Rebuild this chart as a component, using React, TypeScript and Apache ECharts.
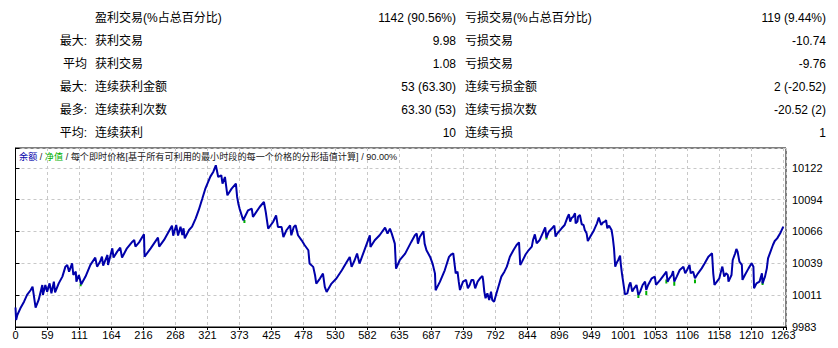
import React, { useEffect, useRef } from 'react';
import * as echarts from 'echarts';

// ---- statistics table ----
const rowLeftLabels = ['', '最大:', '平均', '最大:', '最多:', '平均:'];
const winLabels = ['盈利交易(%占总百分比)', '获利交易', '获利交易', '连续获利金额', '连续获利次数', '连续获利'];
const winValues = ['1142 (90.56%)', '9.98', '1.08', '53 (63.30)', '63.30 (53)', '10'];
const lossLabels = ['亏损交易(%占总百分比)', '亏损交易', '亏损交易', '连续亏损金额', '连续亏损次数', '连续亏损'];
const lossValues = ['119 (9.44%)', '-10.74', '-9.76', '2 (-20.52)', '-20.52 (2)', '1'];

// ---- axes ----
const xTickLabels = ['0', '59', '111', '164', '216', '268', '321', '373', '425', '478', '530', '582', '635', '687', '739', '792', '844', '896', '949', '1001', '1053', '1106', '1158', '1210', '1263'];
const X_STEP = 1261 / 24;
const X_MAX = 1265.5;
const yTickLabels = ['9983', '10011', '10039', '10066', '10094', '10122'];
const Y_MIN = 9983;
const Y_STEP = 27.8;
const Y_MAX = 10139.3;

// ---- balance curve (trade number, balance) ----
const tradeIdx = [
  0, 1, 3, 8, 14, 19, 25, 28, 33, 38, 44, 45, 49, 52, 56, 59, 63, 65, 71, 77,
  82, 85, 88, 93, 95, 99, 100, 104, 108, 115, 123, 131, 134, 139, 142, 144, 151, 152, 159, 161,
  167, 172, 175, 183, 192, 195, 197, 203, 211, 212, 222, 234, 236, 244, 257, 259, 264, 267, 271, 274,
  276, 278, 285, 290, 296, 301, 307, 312, 320, 325,
  329, 333, 338, 340, 344, 348, 355, 362, 364, 366, 368, 374, 382, 388, 390, 401, 408, 411, 415, 423,
  428, 431, 437, 440, 445, 451, 453, 457, 460, 464, 470, 475, 481, 483, 489, 492, 494, 500, 505, 508,
  511, 519, 527, 536, 544, 549, 552, 557, 561, 565, 571, 579, 582, 583, 590, 598, 607, 611, 615, 618,
  623, 625, 631, 640, 650, 656, 659, 661, 664, 670, 672, 675, 681, 685, 689, 690, 697, 705, 712,
  716, 719, 721, 723, 726, 728, 730, 735, 740, 743, 746, 749, 752, 755, 759, 763, 767, 768, 770, 772,
  775, 778, 781, 783, 786, 790, 794, 798, 803, 807, 812, 818, 823, 827, 829, 832, 838, 843, 848, 850,
  853, 856, 861, 867, 870, 872, 876, 882, 885, 887, 890, 897, 902, 907, 909, 911, 913, 916, 919, 920,
  923, 924, 927, 930, 933, 935, 938, 940, 944, 949, 955, 958, 962, 965, 968,
  970, 972, 975, 979, 981, 983, 985, 987, 990, 993, 994, 996, 998, 1001, 1005, 1008, 1010, 1013, 1016, 1020,
  1023, 1026, 1030, 1034, 1036, 1039, 1045, 1050, 1052, 1059, 1067, 1069, 1071, 1074, 1078, 1080, 1082, 1086, 1091, 1097,
  1100, 1103, 1107, 1109, 1113, 1116, 1121, 1127, 1132, 1138, 1144, 1146, 1148, 1152, 1156, 1160, 1161, 1164, 1167, 1170,
  1171, 1176, 1178, 1182, 1184, 1186, 1189, 1193, 1194, 1198, 1204, 1209, 1212, 1213, 1217, 1222, 1226, 1227, 1231, 1234,
  1236, 1239, 1244, 1247, 1251, 1256, 1261,
];
const balance = [
  10000.0, 9989.1, 9993.5, 9999.3, 10005.1, 10011.0, 10015.3, 10018.2, 10000.0, 10006.6, 10019.7, 10011.0, 10019.7, 10013.9, 10021.1, 10012.4, 10022.6, 10013.3, 10021.1, 10027.0,
  10035.7, 10037.2, 10031.3, 10038.6, 10028.4, 10031.3, 10022.6, 10028.4, 10020.3, 10027.0, 10037.2, 10043.6, 10035.7, 10040.1, 10044.4, 10036.6, 10045.9, 10037.2, 10051.7, 10043.6,
  10048.8, 10052.3, 10043.6, 10051.7, 10057.5, 10059.0, 10053.2, 10056.9, 10063.9, 10044.4, 10051.7, 10061.0, 10053.2, 10059.0, 10071.5, 10062.8, 10072.1, 10062.8, 10070.6, 10063.3,
  10069.2, 10060.4, 10067.7, 10070.6, 10077.9, 10085.2, 10095.4, 10104.1, 10114.3, 10118.6,
  10124.2, 10114.0, 10115.5, 10108.2, 10114.0, 10098.0, 10103.8, 10108.2, 10096.6, 10090.7, 10086.4, 10076.2, 10084.9, 10086.4, 10079.1, 10087.8, 10092.2, 10083.5, 10068.9, 10074.7,
  10080.5, 10070.4, 10070.4, 10061.6, 10067.5, 10071.8, 10063.1, 10070.4, 10071.8, 10063.1, 10058.7, 10054.4, 10050.0, 10038.4, 10035.5, 10028.2, 10020.9, 10025.3, 10029.6, 10018.0,
  10013.6, 10020.9, 10025.3, 10032.5, 10039.8, 10044.2, 10035.5, 10041.3, 10047.1, 10038.4, 10047.1, 10058.7, 10063.1, 10052.9, 10058.7, 10063.1, 10069.8, 10064.5, 10068.9, 10064.5,
  10055.8, 10034.0, 10041.3, 10047.1, 10057.3, 10063.1, 10064.6, 10055.8, 10061.6, 10066.6, 10055.8, 10050.0, 10044.2, 10038.4, 10029.6, 10015.1, 10022.4, 10032.5, 10044.2,
  10046.5, 10047.3, 10038.6, 10029.9, 10031.3, 10022.6, 10015.3, 10022.6, 10024.1, 10016.8, 10019.7, 10024.1, 10024.1, 10016.8, 10022.6, 10025.5, 10027.5, 10024.1, 10013.9, 10008.1,
  10012.4, 10006.6, 10013.9, 10006.6, 10005.1, 10012.4, 10019.7, 10027.0, 10031.3, 10035.7, 10044.4, 10050.2, 10054.6, 10056.9, 10037.1, 10040.1, 10046.5, 10050.2, 10053.2, 10059.0,
  10063.9, 10056.1, 10059.0, 10066.3, 10070.0, 10061.0, 10066.3, 10069.7, 10071.5, 10061.9, 10064.8, 10069.2, 10072.1, 10079.3, 10081.4, 10075.0, 10077.9, 10079.3, 10082.3, 10073.5,
  10075.0, 10079.3, 10080.8, 10072.7, 10072.1, 10067.7, 10064.8, 10058.1, 10061.9, 10066.3, 10073.5, 10078.5, 10072.1, 10074.4, 10075.0,
  10076.4, 10069.2, 10071.5, 10067.7, 10061.0, 10051.7, 10035.7, 10038.6, 10041.5, 10045.3, 10038.6, 10029.9, 10022.6, 10011.5, 10012.4, 10019.7, 10022.0, 10013.9, 10016.8, 10019.7,
  10011.0, 10013.9, 10019.7, 10022.6, 10015.3, 10019.7, 10025.5, 10027.0, 10019.7, 10024.1, 10029.9, 10031.3, 10022.6, 10025.5, 10028.4, 10031.9, 10022.6, 10027.0, 10032.8, 10035.7,
  10029.9, 10032.8, 10037.2, 10029.9, 10031.3, 10025.5, 10029.9, 10034.2, 10038.6, 10044.4, 10047.3, 10029.9, 10019.7, 10022.6, 10025.5, 10034.2, 10035.7, 10027.0, 10029.9, 10028.4,
  10022.6, 10028.4, 10041.5, 10047.3, 10051.1, 10048.8, 10040.1, 10037.2, 10024.1, 10028.4, 10034.2, 10038.6, 10035.7, 10016.8, 10021.1, 10022.6, 10029.9, 10021.1, 10027.0, 10034.2,
  10043.0, 10047.3, 10054.6, 10058.1, 10060.4, 10064.8, 10070.6,
];

// ---- equity dips (trade number, equity high, equity low) ----
const equityIdx = [107, 376, 872, 1023, 1036, 1069, 1082, 1116, 1227];
const equityHigh = [10021.0, 10076.5, 10062.0, 10011.5, 10014.5, 10024.5, 10022.5, 10024.5, 10022.8];
const equityLow = [10018.5, 10073.9, 10059.5, 10008.3, 10011.0, 10021.0, 10019.1, 10021.1, 10019.7];

const FONT = '"Liberation Sans", Arial, "Noto Sans CJK SC", sans-serif';

export default function App() {
  const ref = useRef<HTMLDivElement>(null);

  useEffect(() => {
    const chart = echarts.init(ref.current!, null, { renderer: 'svg' });

    const balanceData = tradeIdx.map((x, i) => [x, balance[i]]);
    const equityData: any[] = [];
    equityIdx.forEach((x, i) => {
      equityData.push([x, equityHigh[i]]);
      equityData.push([x, equityLow[i]]);
      equityData.push('-');
    });

    const graphics: any[] = [];
    const rowY = (i: number) => 17.5 + i * 23;
    const txt = (text: string, x: number, y: number, align: string) => ({
      type: 'text',
      x,
      y,
      silent: true,
      style: {
        text,
        fill: '#000',
        fontSize: 12,
        fontFamily: FONT,
        align,
        verticalAlign: 'middle',
      },
    });
    for (let i = 0; i < 6; i++) {
      if (rowLeftLabels[i]) graphics.push(txt(rowLeftLabels[i], 87, rowY(i), 'right'));
      graphics.push(txt(winLabels[i], 95, rowY(i), 'left'));
      graphics.push(txt(winValues[i], 456, rowY(i), 'right'));
      graphics.push(txt(lossLabels[i], 465, rowY(i), 'left'));
      graphics.push(txt(lossValues[i], 826, rowY(i), 'right'));
    }
    graphics.push({
      type: 'text',
      x: 19,
      y: 157,
      silent: true,
      z: 100,
      style: {
        text: '{b|余额} / {g|净值} / 每个即时价格[基于所有可利用的最小时段的每一个价格的分形插值计算] / 90.00%',
        fill: '#202020',
        fontSize: 9.15,
        fontFamily: FONT,
        align: 'left',
        verticalAlign: 'middle',
        rich: {
          b: { fill: '#0000aa', fontSize: 9.15, fontFamily: FONT },
          g: { fill: '#00b000', fontSize: 9.15, fontFamily: FONT },
        },
      },
    });

    const nearTick = (v: number, min: number, step: number, labels: string[]) => {
      const k = (v - min) / step;
      const r = Math.round(k);
      if (Math.abs(k - r) > 0.02 || r < 0 || r >= labels.length) return '';
      return labels[r];
    };

    const option: any = {
      animation: false,
      backgroundColor: '#fff',
      textStyle: { fontFamily: FONT },
      grid: {
        left: 15.5,
        right: 52,
        top: 148,
        bottom: 21,
        show: true,
        borderColor: '#000',
        borderWidth: 1,
        backgroundColor: '#fff',
      },
      xAxis: {
        type: 'value',
        min: 0,
        max: X_MAX,
        interval: X_STEP,
        axisLine: { show: true, lineStyle: { color: '#000', width: 1 } },
        axisTick: { show: true, length: 3, lineStyle: { color: '#000' } },
        axisLabel: {
          color: '#000',
          fontSize: 11,
          fontFamily: FONT,
          margin: 2,
          showMaxLabel: true,
          showMinLabel: true,
          formatter: (v: number) => nearTick(v, 0, X_STEP, xTickLabels),
        },
        splitLine: { show: true, lineStyle: { color: '#c8c8c8', type: [3, 3], width: 1 } },
      },
      yAxis: {
        type: 'value',
        position: 'right',
        min: Y_MIN,
        max: Y_MAX,
        interval: Y_STEP,
        axisLine: { show: true, lineStyle: { color: '#000', width: 1 } },
        axisTick: { show: true, length: 4, lineStyle: { color: '#000' } },
        axisLabel: {
          color: '#000',
          fontSize: 11,
          fontFamily: FONT,
          margin: 6,
          formatter: (v: number) => nearTick(v, Y_MIN, Y_STEP, yTickLabels),
        },
        splitLine: { show: true, lineStyle: { color: '#c8c8c8', type: [3, 3], width: 1 } },
      },
      series: [
        {
          name: '净值',
          type: 'line',
          data: equityData,
          showSymbol: false,
          connectNulls: false,
          lineStyle: { color: '#00b000', width: 2 },
          z: 2,
        },
        {
          name: '余额',
          type: 'line',
          data: balanceData,
          showSymbol: false,
          lineStyle: { color: '#0000aa', width: 2 },
          z: 3,
        },
      ],
      graphic: graphics,
    };

    chart.setOption(option);
    return () => chart.dispose();
  }, []);

  return (
    <div
      ref={ref}
      style={{ position: 'absolute', left: 0, top: 0, width: 838, height: 348, background: '#fff' }}
    />
  );
}
